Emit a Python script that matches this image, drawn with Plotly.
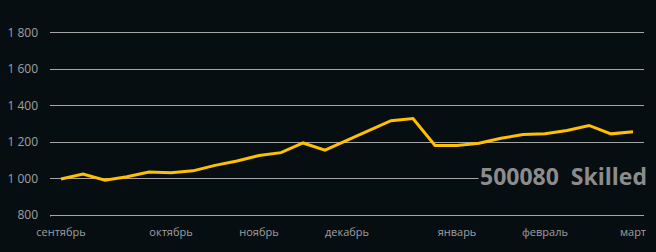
import plotly.graph_objects as go

weeks = ["01.09", "08.09", "15.09", "22.09", "29.09", "06.10", "13.10", "20.10", "27.10",
         "03.11", "10.11", "17.11", "24.11", "01.12", "08.12", "15.12", "22.12", "29.12",
         "05.01", "12.01", "19.01", "26.01", "02.02", "09.02", "16.02", "23.02", "02.03"]
values = [998, 1026, 992, 1011, 1037, 1033, 1043, 1073, 1097, 1127, 1143, 1196, 1157,
          1210, 1264, 1318, 1330, 1182, 1182, 1194, 1222, 1242, 1247, 1264, 1292, 1246, 1257]
month_idx = [0, 5, 9, 13, 18, 22, 26]
month_labels = ["сентябрь", "октябрь", "ноябрь", "декабрь", "январь", "февраль", "март"]
y_ticks = [800, 1000, 1200, 1400, 1600, 1800]
y_labels = ["800", "1 000", "1 200", "1 400", "1 600", "1 800"]
title_text = "500080  Skilled"

BG = "#060e12"
GRID = "#a6a6a6"
TXT = "#a0a0a0"

x = list(range(len(weeks)))

fig = go.Figure()
fig.add_trace(go.Scatter(
    x=x, y=values, mode="lines",
    line=dict(color="#ffc000", width=3),
    customdata=weeks, hovertemplate="%{customdata}: %{y}<extra></extra>",
))

fig.update_layout(
    width=656, height=252,
    margin=dict(l=50, r=12, t=31, b=35),
    paper_bgcolor=BG, plot_bgcolor=BG,
    showlegend=False,
    font=dict(family="Open Sans", color=TXT, size=11),
    xaxis=dict(
        range=[-0.5, len(weeks) - 0.5],
        tickvals=month_idx, ticktext=month_labels,
        showgrid=False, zeroline=False, showline=False,
        ticks="", tickfont=dict(size=11, color=TXT),
        ticklabelstandoff=7, automargin=False,
    ),
    yaxis=dict(
        range=[790, 1810],
        tickvals=y_ticks, ticktext=y_labels,
        showgrid=True, gridcolor=GRID, gridwidth=1,
        zeroline=False, showline=False, ticks="",
        tickfont=dict(size=12, color=TXT),
        ticklabelstandoff=11, automargin=False,
    ),
)

# small tick at left end of category axis
fig.add_shape(type="line", xref="x", yref="y", x0=-0.5, x1=-0.5, y0=800, y1=778,
              line=dict(color=GRID, width=1))

fig.add_annotation(
    xref="paper", yref="paper", x=1.008, y=0.218,
    xanchor="right", yanchor="middle",
    text="<b>" + title_text + "</b>", showarrow=False,
    font=dict(family="Open Sans", size=23, color="#8c8c8c"),
    bgcolor=BG, borderpad=1,
)

fig.write_html("out.html")
